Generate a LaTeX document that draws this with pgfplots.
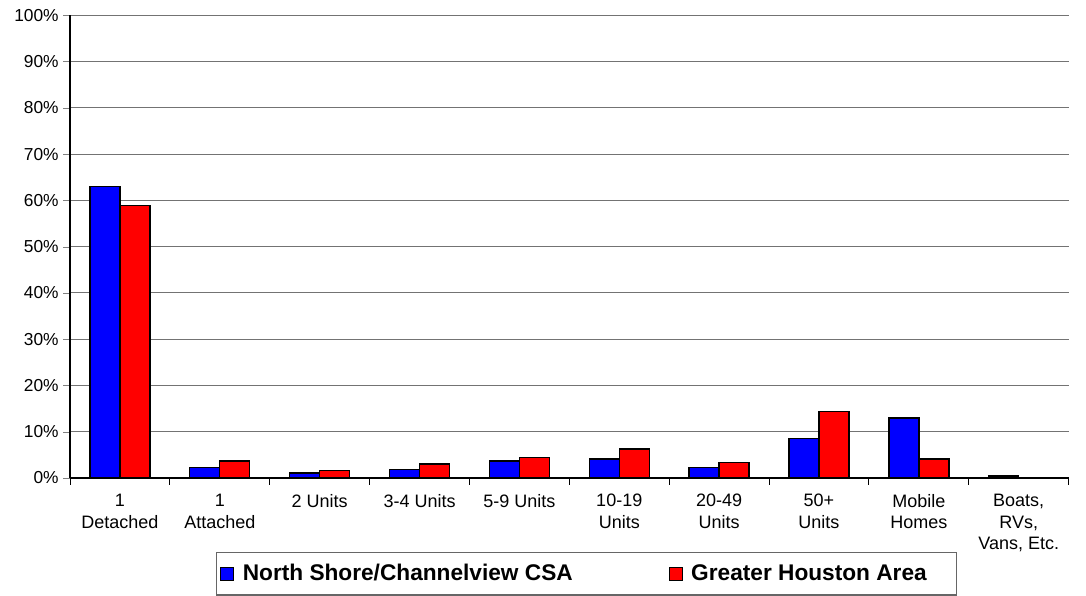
\documentclass[border=0pt]{standalone}
\usepackage{pgfplots}
\pgfplotsset{compat=1.18}
\usepackage{fontspec}
\setmainfont{Liberation Sans}
\definecolor{nsblue}{RGB}{0,0,255}
\definecolor{ghred}{RGB}{255,0,0}
\begin{document}
\begin{tikzpicture}
\path[use as bounding box] (-52.5pt,-88.5pt) rectangle (762pt,358.5pt);
\begin{axis}[
    scale only axis,
    width=749pt, height=347pt,
    at={(0pt,0pt)}, anchor=south west,
    ybar=0pt,
    bar width=22.5pt,
    xmin=-0.5, xmax=9.5,
    ymin=0, ymax=100,
    ytick={0,10,...,100},
    yticklabel={\pgfmathprintnumber{\tick}\%},
    /pgf/number format/assume math mode=true,
    xtick={0,...,9},
    xticklabels={{1\\Detached},{1\\Attached},{2 Units},{3-4 Units},{5-9 Units},{10-19\\Units},{20-49\\Units},{50+\\Units},{Mobile\\Homes},{Boats,\\RVs,\\Vans, Etc.}},
    x tick label style={font=\fontsize{13.5pt}{16.3pt}\selectfont, align=center, anchor=north, yshift=-3.5pt},
    y tick label style={font=\fontsize{13pt}{15pt}\selectfont, xshift=0pt},
    major x tick style={draw=none},
    minor xtick={-0.5,0.5,...,9.5},
    minor x tick style={black, line width=0.7pt},
    minor tick length=5pt,
    major tick length=5pt,
    tick align=outside,
    xtick pos=bottom, ytick pos=left,
    ymajorgrids,
    grid style={black!55, line width=0.8pt},
    axis x line*=bottom, axis y line*=left,
    axis line style={black, line width=0.8pt},
    legend style={
        at={(0.146,-0.16)}, anchor=north west,
        legend columns=2,
        draw=black!60, line width=0.8pt,
        font=\fontsize{17pt}{20pt}\selectfont\bfseries,
        inner xsep=3pt, inner ysep=7pt,
        /tikz/every even column/.append style={column sep=70pt}
    },
    legend image code/.code={\draw[#1, line width=0.7pt] (0pt,-4.9pt) rectangle (9.75pt,4.9pt); \path (14pt,0pt);},
]
\addplot[fill=nsblue, draw=black, line width=1pt] coordinates {
    (0,63.0) (1,2.2) (2,1.1) (3,1.9) (4,3.7) (5,4.1) (6,2.2) (7,8.5) (8,13.0) (9,0.4)
};
\addplot[fill=ghred, draw=black, line width=1pt] coordinates {
    (0,58.9) (1,3.7) (2,1.6) (3,3.0) (4,4.5) (5,6.3) (6,3.3) (7,14.4) (8,4.1)
};
\legend{North Shore/Channelview CSA, Greater Houston Area\kern17pt}
\end{axis}
\end{tikzpicture}
\end{document}
